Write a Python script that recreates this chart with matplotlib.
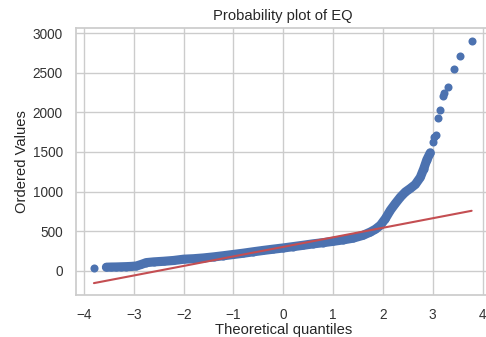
import numpy as np
import matplotlib
matplotlib.use("Agg")
import matplotlib.pyplot as plt
import seaborn as sns

sns.set_theme(style="whitegrid")
plt.rcParams['font.family'] = ['Liberation Sans', 'DejaVu Sans']

# ordered EQ values against theoretical normal quantiles (bulk of the sample)
band_q = [-3.55, -3.45, -3.35, -3.25, -3.15, -3.05, -2.95, -2.85, -2.75, -2.6,
          -2.4, -2.2, -2.0, -1.8, -1.6, -1.4, -1.2, -1.0, -0.8, -0.6,
          -0.4, -0.2, 0.0, 0.2, 0.4, 0.6, 0.8, 1.0, 1.2, 1.4,
          1.6, 1.75, 1.85, 1.95, 2.05, 2.15, 2.25, 2.35, 2.45, 2.55,
          2.65, 2.75, 2.82, 2.88, 2.95]
band_v = [45, 47, 48, 50, 52, 55, 60, 80, 103, 112,
          120, 130, 146, 152, 162, 175, 190, 206, 222, 240,
          257, 273, 288, 305, 322, 340, 355, 372, 390, 412,
          448, 490, 525, 575, 660, 765, 850, 930, 995, 1040,
          1090, 1180, 1290, 1400, 1490]

# sparse extremes at both ends
tail_q = [-3.80, 3.00, 3.03, 3.06, 3.11, 3.14, 3.20, 3.23, 3.31, 3.43, 3.55, 3.78]
tail_v = [32, 1620, 1690, 1720, 1930, 2030, 2210, 2250, 2317, 2549, 2708, 2906]

# least-squares line of the probability plot
fit_slope = 120.5
fit_intercept = 302
q_min, q_max = -3.80, 3.78

fig = plt.figure(figsize=(4.86, 3.37), dpi=100)
ax = fig.add_axes([0.1564, 0.1246, 0.853, 0.791])

blue = "#4c72b0"
ms = 5.8
ax.plot(band_q, band_v, '-', color=blue, lw=6.6, solid_capstyle='round',
        solid_joinstyle='round')
ax.plot(band_q, band_v, 'o', color=blue, ms=ms, mew=0)
ax.plot(tail_q, tail_v, 'o', color=blue, ms=ms, mew=0)

xs = np.array([q_min, q_max])
ax.plot(xs, fit_intercept + fit_slope * xs, '-', color="#c44e52", lw=1.5)

ax.set_xlim(-4.16, 4.16)
ax.set_ylim(-306, 3060)
ax.set_xticks(range(-4, 5))
ax.set_yticks(range(0, 3001, 500))
ax.tick_params(labelsize=9.8, colors="#333333", pad=3.5)
ax.set_title("Probability plot of EQ", fontsize=10.6, color="#262626")
ax.set_xlabel("Theoretical quantiles", fontsize=10.6, color="#262626", labelpad=0.5)
ax.set_ylabel("Ordered Values", fontsize=10.6, color="#262626", labelpad=3)

fig.savefig("out.png", dpi=100)
